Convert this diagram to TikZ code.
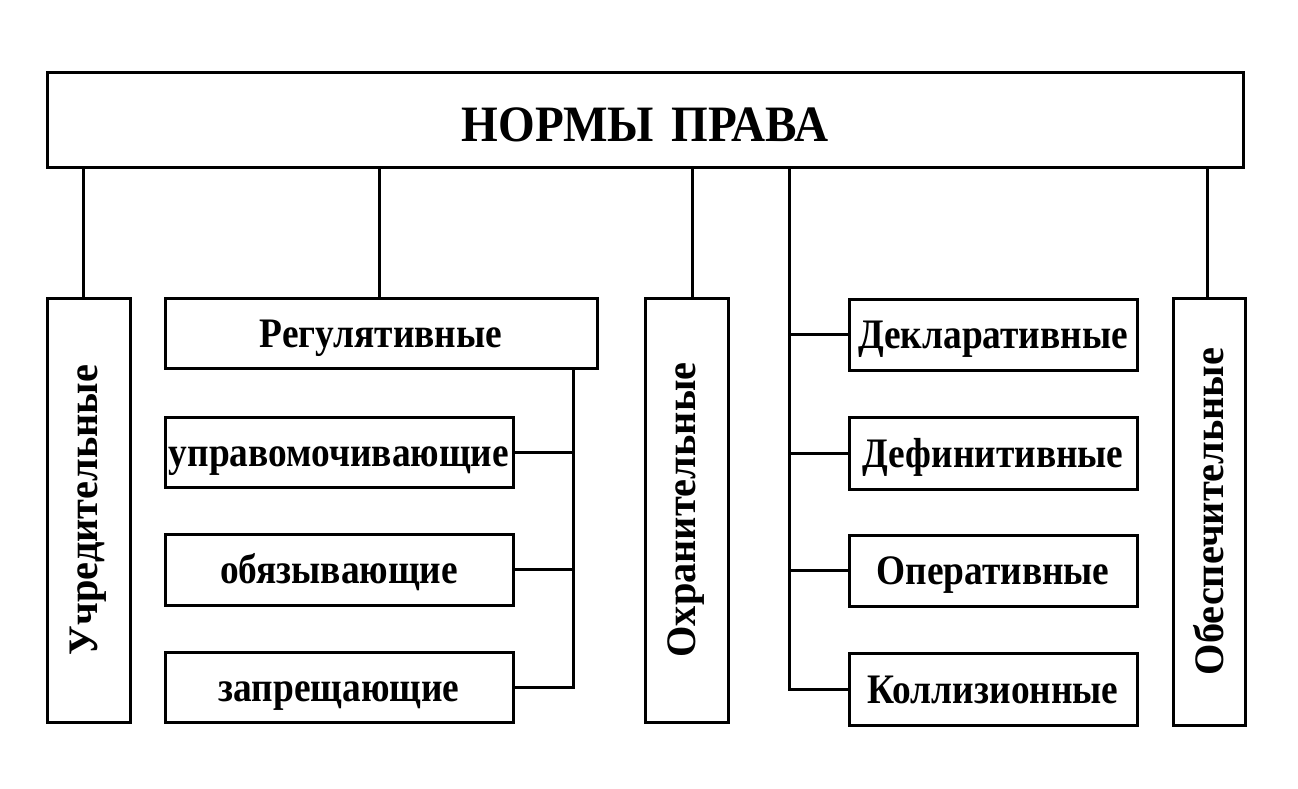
\documentclass[tikz,border=0pt]{standalone}
\usepackage{fontspec}
\setmainfont{Liberation Serif}[FakeStretch=0.89]
\newfontfamily\titlefont{Liberation Serif}[FakeStretch=0.925]
\newfontfamily\vertfont{Liberation Serif}[FakeStretch=0.96]
\begin{document}
\begin{tikzpicture}[x=1pt,y=-1pt,
  box/.style={draw=black,line width=3pt,inner sep=0pt,align=center,
    text height=40pt,text depth=12pt,
    font=\fontsize{42}{46}\selectfont\bfseries},
  hbox/.style={box,minimum width=#1,minimum height=71pt},
  vlabel/.style={rotate=90,font=\vertfont\fontsize{42}{46}\selectfont\bfseries,inner sep=0pt},
  conn/.style={line width=3pt}]
\useasboundingbox (0,0) rectangle (1298,789);
\fill[white] (0,0) rectangle (1298,789);
% top
\node[box,minimum width=1196pt,minimum height=94pt,text height=54pt,text depth=10pt,
  font=\titlefont\fontsize{51}{56}\selectfont\bfseries] (top) at (645,120) {НОРМЫ\hspace{0.35em}ПРАВА};
% left
\node[box,minimum width=83pt,minimum height=424pt] (uchr) at (88.5,510) {};
\node[vlabel] (uchrt) at (uchr.center) {Учредительные};
\node[hbox=432pt,minimum height=70pt] (reg) at (381,333) {Регулятивные};
\node[hbox=348pt,minimum height=70pt] (upr) at (339,452) {управомочивающие};
\node[hbox=348pt] (obz) at (339,569.5) {обязывающие};
\node[hbox=348pt,minimum height=70pt] (zap) at (339,687) {запрещающие};
% middle
\node[box,minimum width=83pt,minimum height=424pt] (ohr) at (686.5,510) {};
\node[vlabel] (ohrt) at (ohr.center) {Охранительные};
% right
\node[hbox=288pt] (dekl) at (993,334.5) {Декларативные};
\node[hbox=288pt,minimum height=72pt] (def) at (993,453) {Дефинитивные};
\node[hbox=288pt] (oper) at (993,570.5) {Оперативные};
\node[hbox=288pt,minimum height=72pt] (koll) at (993,689) {Коллизионные};
\node[box,minimum width=72pt,minimum height=427pt] (obes) at (1209,511.5) {};
\node[vlabel] (obest) at (obes.center) {Обеспечительные};
% connectors from top
\draw[conn] ([xshift=-5.5pt]uchr.north) -- ([xshift=-5.5pt]uchr.north |- top.south);
\draw[conn] ([xshift=-2pt]reg.north) -- ([xshift=-2pt]reg.north |- top.south);
\draw[conn] ([xshift=5.5pt]ohr.north) -- ([xshift=5.5pt]ohr.north |- top.south);
\draw[conn] ([xshift=-2pt]obes.north) -- ([xshift=-2pt]obes.north |- top.south);
% left spine
\coordinate (ls) at ([xshift=-25pt]reg.south east);
\draw[conn] (ls) |- (zap.east);
\draw[conn] (upr.east) -- (upr.east -| ls);
\draw[conn] (obz.east) -- (obz.east -| ls);
% right spine
\coordinate (rs) at ([xshift=-58pt]dekl.west |- top.south);
\draw[conn] (rs) |- (koll.west);
\draw[conn] (dekl.west) -- (dekl.west -| rs);
\draw[conn] (def.west) -- (def.west -| rs);
\draw[conn] (oper.west) -- (oper.west -| rs);
\end{tikzpicture}
\end{document}
